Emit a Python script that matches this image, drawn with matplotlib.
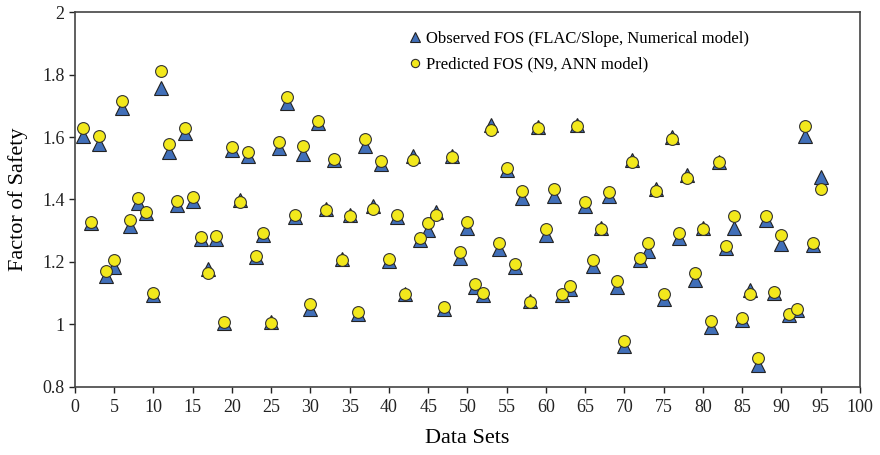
import matplotlib.pyplot as plt
import numpy as np

plt.rcParams['font.family'] = ['Liberation Serif', 'DejaVu Serif']

data_sets = np.arange(1, 96)

observed = [1.603, 1.325, 1.578, 1.154, 1.185, 1.693, 1.315, 1.388, 1.356, 1.095,
            1.758, 1.553, 1.381, 1.612, 1.395, 1.272, 1.178, 1.274, 1.004, 1.558,
            1.398, 1.540, 1.215, 1.285, 1.008, 1.564, 1.708, 1.345, 1.546, 1.048,
            1.645, 1.370, 1.525, 1.208, 1.350, 1.033, 1.570, 1.380, 1.515, 1.202,
            1.345, 1.098, 1.540, 1.270, 1.303, 1.360, 1.050, 1.540, 1.213, 1.309,
            1.121, 1.095, 1.640, 1.242, 1.495, 1.184, 1.405, 1.075, 1.632, 1.287,
            1.410, 1.095, 1.112, 1.638, 1.378, 1.188, 1.310, 1.410, 1.120, 0.930,
            1.525, 1.205, 1.234, 1.435, 1.082, 1.600, 1.277, 1.478, 1.143, 1.310,
            0.992, 1.520, 1.245, 1.310, 1.015, 1.110, 0.871, 1.333, 1.100, 1.257,
            1.030, 1.045, 1.604, 1.255, 1.471]

predicted = [1.628, 1.329, 1.604, 1.171, 1.206, 1.715, 1.334, 1.406, 1.361, 1.100,
             1.812, 1.577, 1.396, 1.628, 1.409, 1.281, 1.166, 1.284, 1.009, 1.569,
             1.393, 1.551, 1.220, 1.292, 1.006, 1.585, 1.729, 1.350, 1.572, 1.066,
             1.652, 1.366, 1.530, 1.206, 1.347, 1.041, 1.593, 1.369, 1.523, 1.209,
             1.350, 1.097, 1.526, 1.276, 1.326, 1.350, 1.057, 1.537, 1.233, 1.327,
             1.129, 1.100, 1.622, 1.260, 1.500, 1.194, 1.428, 1.073, 1.628, 1.306,
             1.433, 1.097, 1.124, 1.635, 1.393, 1.206, 1.306, 1.423, 1.140, 0.947,
             1.519, 1.214, 1.262, 1.428, 1.097, 1.593, 1.294, 1.470, 1.164, 1.306,
             1.011, 1.521, 1.251, 1.347, 1.022, 1.097, 0.892, 1.348, 1.103, 1.286,
             1.033, 1.049, 1.636, 1.262, 1.434]

fig = plt.figure(figsize=(8.8, 4.55), dpi=100)
ax = fig.add_axes([0.0852, 0.1495, 0.8920, 0.8241])

ax.plot(data_sets, observed, linestyle='none', marker='^', markersize=9.5,
        markerfacecolor='#416fb8', markeredgecolor='#222222', markeredgewidth=0.8,
        label='Observed FOS (FLAC/Slope, Numerical model)')
ax.plot(data_sets, predicted, linestyle='none', marker='o', markersize=8.5,
        markerfacecolor='#f2e81c', markeredgecolor='#333333', markeredgewidth=0.8,
        label='Predicted FOS (N9, ANN model)')

ax.set_xlim(0, 100)
ax.set_ylim(0.8, 2)
ax.set_xticks(np.arange(0, 101, 5))
ax.set_yticks([0.8, 1, 1.2, 1.4, 1.6, 1.8, 2])
ax.set_yticklabels(['0.8', '1', '1.2', '1.4', '1.6', '1.8', '2'])
ax.tick_params(direction='out', length=4, width=1, labelsize=13, colors='#222222')
ax.tick_params(axis='x', pad=5)

for s in ax.spines.values():
    s.set_color('#444444')
    s.set_linewidth(1.2)

ax.set_xlabel('Data Sets', fontsize=16, labelpad=9)
ax.set_ylabel('Factor of Safety', fontsize=16, labelpad=10)

ax.legend(loc='upper left', bbox_to_anchor=(0.405, 0.99), frameon=False,
          fontsize=12, handlelength=0.8, handletextpad=0.3, labelspacing=0.6,
          markerscale=0.7)

fig.savefig('out.png', dpi=100)
